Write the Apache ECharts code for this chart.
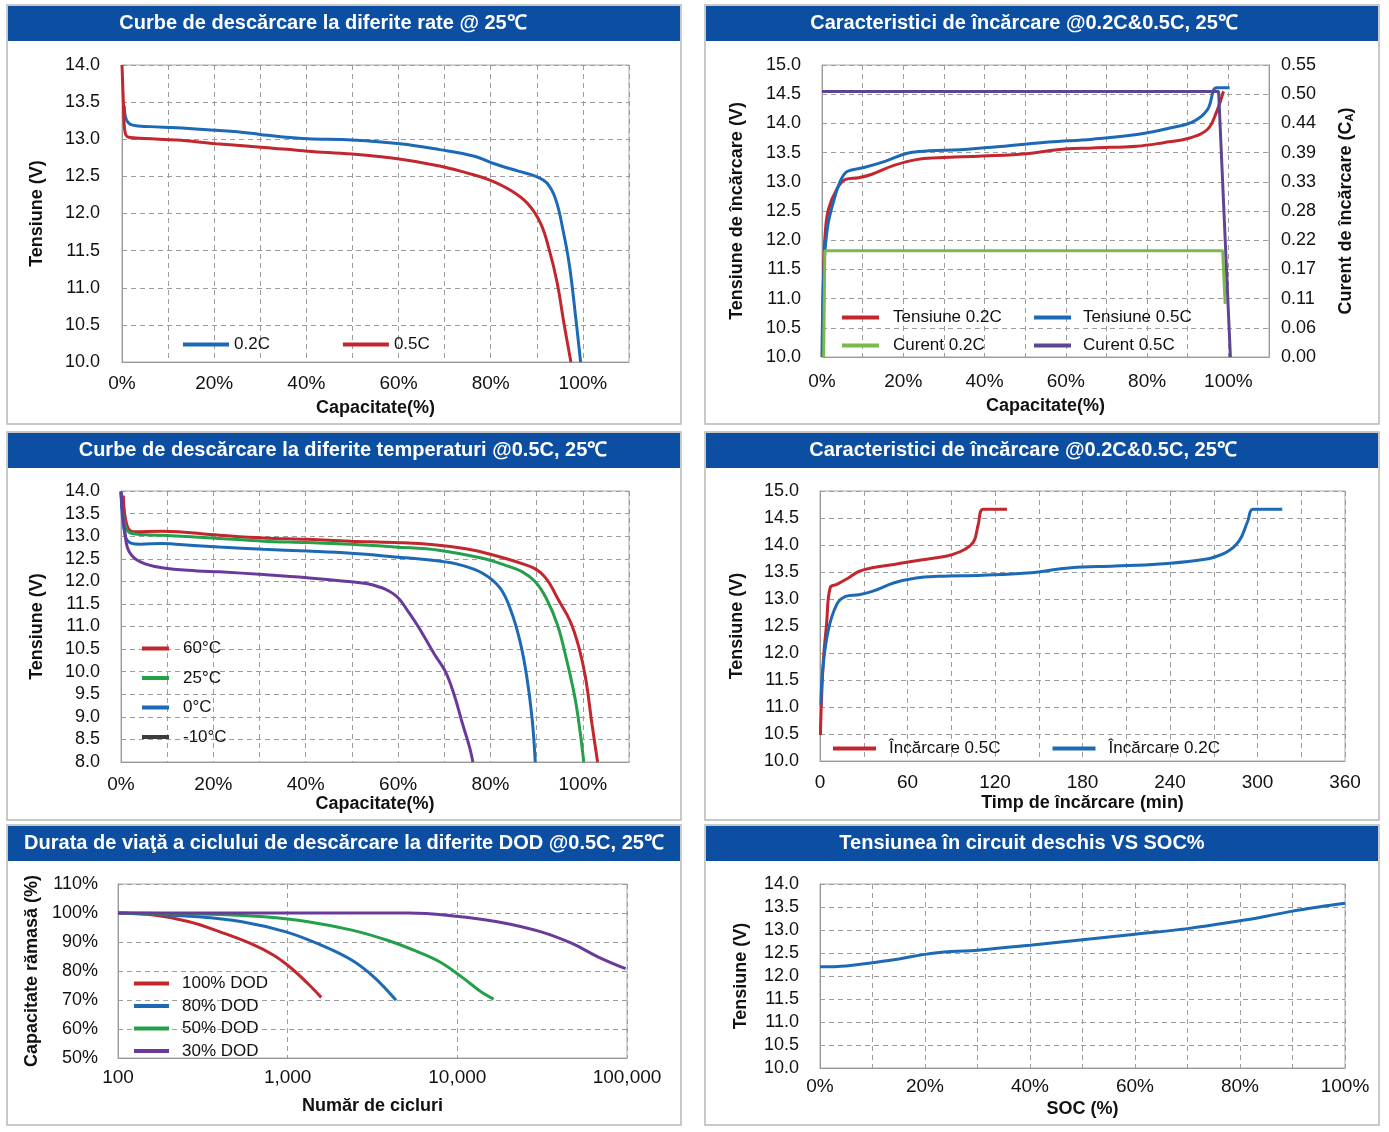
<!DOCTYPE html>
<html>
<head>
<meta charset="utf-8">
<script src="https://cdn.jsdelivr.net/npm/echarts@6/dist/echarts.min.js"></script>
<style>
  html, body { margin: 0; padding: 0; background: #fff; }
  #main { width: 1389px; height: 1132px; }
</style>
</head>
<body>
<div id="main"></div>
<script>
// ---- panel 1: discharge at different rates
const dis02C = [[0.5,13.45],[0.9,13.27],[2.3,13.19],[6,13.17],[11.8,13.155],[20.4,13.12],[25,13.1],[29.9,13.065],[35,13.03],[40.3,13.007],[49.9,12.99],[60.3,12.94],[68.9,12.86],[76.5,12.77],[80.3,12.68],[86,12.57],[89.8,12.5],[92.2,12.41],[94.1,12.19],[95.8,11.74],[97.1,11.29],[98.4,10.62],[99.5,10.0]];
const dis05C = [[0,14.0],[0.3,13.5],[0.6,13.12],[1.3,13.03],[5,13.01],[11.8,12.99],[20.4,12.94],[30.8,12.89],[40.3,12.84],[49.9,12.8],[59.4,12.74],[68.9,12.64],[74.6,12.55],[79.4,12.46],[84.1,12.32],[87.9,12.14],[90.8,11.87],[92.7,11.51],[94.4,11.07],[96,10.48],[97.4,10.0]];

// ---- panel 2: charge characteristics vs capacity
const chgV02C = [[0.1,10.0],[0.4,11.5],[0.8,12.13],[1.6,12.53],[3.6,12.87],[5.8,13.04],[9,13.07],[12.3,13.13],[17.7,13.28],[23.2,13.38],[28.6,13.41],[39.5,13.44],[50.3,13.48],[57.9,13.55],[66.6,13.58],[77.5,13.61],[84,13.67],[90.5,13.75],[94.9,13.9],[97,14.18],[98.8,14.55]];
const chgV05C = [[0,10.0],[0.5,11.55],[1.4,12.24],[3,12.7],[4.7,13.04],[6.3,13.18],[10.1,13.24],[15.5,13.35],[21,13.49],[26.4,13.53],[34,13.55],[44.9,13.61],[55.8,13.68],[66.6,13.73],[77.5,13.81],[86.2,13.93],[91.6,14.04],[94.9,14.24],[97.1,14.61],[100.3,14.61]];
const chgI02C = [[0.4,0],[0.7,0.2],[98.6,0.2],[99.2,0.1]];
const chgI05C = [[0,0.5],[97.6,0.5],[100.5,0]];
const curTicks = ['0.00','0.06','0.11','0.17','0.22','0.28','0.33','0.39','0.44','0.50','0.55'];

// ---- panel 3: discharge at different temperatures
const t60 = [[0.5,13.9],[1.3,13.24],[2.8,13.1],[8.9,13.11],[21.3,13.02],[30.8,12.96],[40.3,12.93],[49.8,12.89],[59.3,12.86],[68.8,12.8],[76.4,12.69],[83.1,12.51],[87.8,12.36],[89.8,12.27],[91.6,12.12],[93,11.92],[94.5,11.63],[97.3,11.11],[99.2,10.52],[100.6,9.86],[102,8.83],[103.2,8.0]];
const t25 = [[0,14.0],[0.9,13.24],[2.3,13.06],[8.9,13.02],[21.3,12.95],[30.8,12.89],[40.3,12.86],[49.8,12.82],[59.3,12.76],[68.8,12.69],[78.3,12.51],[83.1,12.36],[86.9,12.21],[89.7,11.99],[92.1,11.62],[94.5,11.04],[96.4,10.3],[98.3,9.42],[99.4,8.68],[100.2,8.0]];
const t0 = [[0,13.98],[0.9,13.02],[2.3,12.84],[4.2,12.82],[8.9,12.84],[11.8,12.82],[21.3,12.76],[30.8,12.71],[40.3,12.67],[49.8,12.62],[59.3,12.54],[68.8,12.45],[73.6,12.36],[78.3,12.18],[82.1,11.85],[84.5,11.33],[86.4,10.67],[87.8,9.93],[89,8.98],[89.7,8.0]];
const tm10 = [[0,13.98],[0.9,13.02],[1.8,12.65],[4.2,12.43],[8.9,12.3],[16.5,12.23],[21.3,12.21],[30.8,12.15],[40.3,12.08],[49.8,11.99],[54.6,11.92],[59.3,11.7],[62.2,11.33],[65,10.89],[67.9,10.38],[70.2,10.01],[72.1,9.5],[74,8.83],[75.5,8.32],[76.2,8.0]];

// ---- panel 4: charge voltage vs time (min)
const time05C = [[0.3,10.48],[0.9,11.04],[2.4,11.9],[4.5,12.53],[7,13.21],[11.5,13.27],[17.6,13.36],[26.7,13.51],[35.8,13.58],[50.9,13.64],[66,13.71],[81.2,13.77],[90.3,13.82],[99.4,13.92],[105.5,14.07],[108.5,14.38],[112,14.66],[128.2,14.66]];
const time02C = [[0.6,11.04],[1.8,11.66],[5.5,12.4],[11.5,12.9],[17.6,13.05],[26.7,13.08],[35.8,13.14],[50.9,13.3],[66,13.39],[81.2,13.42],[111.5,13.44],[141.8,13.48],[172.1,13.58],[202.4,13.61],[232.7,13.65],[263,13.73],[278.2,13.86],[287.3,14.07],[293.3,14.44],[297,14.66],[317,14.66]];

// ---- panel 5: cycle life at different DOD
const dod100 = [[100,100],[163,99.3],[263,97],[399,93.5],[603,89.5],[818,85.6],[1038,81.2],[1318,75.6],[1577,70.9]];
const dod80 = [[100,100],[296,98.7],[538,97],[977,93.5],[1577,88.9],[2393,83.7],[3226,77.9],[4354,69.9]];
const dod50 = [[100,100],[399,99.5],[726,98.7],[1318,97],[2393,94.1],[3864,90.6],[5866,86.6],[7900,83.1],[10650,77.9],[13520,73.2],[16360,70.3]];
const dod30 = [[100,100],[5200,100],[9460,99],[17190,97],[31200,93.5],[47400,89.5],[67800,84.8],[98100,80.8]];

// ---- panel 6: open-circuit voltage vs SOC
const ocv = [[0,12.2],[5,12.22],[10,12.29],[15,12.37],[20,12.47],[25,12.53],[30,12.56],[40,12.67],[50,12.79],[60,12.91],[70,13.03],[80,13.2],[85,13.3],[90,13.41],[95,13.5],[100,13.58]];

const headers = [
    'Curbe de descărcare la diferite rate @ 25℃',
    'Caracteristici de încărcare @0.2C&0.5C, 25℃',
    'Curbe de descărcare la diferite temperaturi @0.5C, 25℃',
    'Caracteristici de încărcare @0.2C&0.5C, 25℃',
    'Durata de viaţă a ciclului de descărcare la diferite DOD @0.5C, 25℃',
    'Tensiunea în circuit deschis VS SOC%'
];

const FONT = '"Liberation Sans", Arial, sans-serif';
const BLUE = '#1c69b6', RED = '#c1272d', GREEN = '#24a04a', PURPLE = '#6a3a9b';

const boxes = [[7,5,674,419],[705,5,674,419],[7,432,674,388],[705,432,674,388],[7,825,674,300],[705,825,674,300]];
const headerCx = [323, 1024, 343, 1023, 344, 1022];

const gridLine = { show: true, lineStyle: { color: '#9c9c9c', type: [5, 4], width: 1 } };

function axis(type, gi, min, max, step, fmt, name, nameGap, margin, labelSize) {
    const a = {
        type: type, gridIndex: gi, min: min, max: max,
        axisLine: { show: true, onZero: false, lineStyle: { color: '#999' } },
        axisTick: { show: false },
        axisLabel: { formatter: fmt, color: '#111', fontSize: labelSize, fontFamily: FONT, margin: margin },
        splitLine: gridLine,
        name: name, nameLocation: 'middle', nameGap: nameGap,
        nameTextStyle: { fontWeight: 'bold', fontSize: 18, color: '#111', fontFamily: FONT }
    };
    if (step) a.interval = step;
    return a;
}

const pct20 = v => (v % 20 === 0 && v <= 100) ? v + '%' : '';
const dec1 = v => v.toFixed(1);

function line(name, xi, yi, data, color, extra) {
    return Object.assign({
        type: 'line', name: name, xAxisIndex: xi, yAxisIndex: yi, data: data,
        showSymbol: false, symbol: 'none', smooth: 0.4,
        lineStyle: { width: 3, color: color }, itemStyle: { color: color }
    }, extra || {});
}

function legend(names, left, top, width, gap, pad, vertical) {
    return {
        data: names, left: left, top: top, padding: 0, icon: 'rect',
        orient: vertical ? 'vertical' : 'horizontal',
        itemWidth: width, itemHeight: 4, itemGap: gap,
        textStyle: { fontSize: 17, color: '#111', fontFamily: FONT, padding: [0, 0, 0, pad] }
    };
}

const graphics = [];
boxes.forEach(function (b, i) {
    graphics.push({ type: 'rect', z: -10, shape: { x: b[0], y: b[1], width: b[2], height: b[3] },
        style: { fill: '#fff', stroke: '#b8b8b8', lineWidth: 1.5 } });
    graphics.push({ type: 'rect', z: -5, shape: { x: b[0] + 1, y: b[1] + 1, width: b[2] - 2, height: 35 },
        style: { fill: '#0b4ea2' } });
    graphics.push({ type: 'text', z: 10, x: headerCx[i], y: b[1] + 18,
        style: { text: headers[i], fill: '#fff', font: 'bold 20px ' + FONT, textAlign: 'center', textVerticalAlign: 'middle' } });
});

const chart = echarts.init(document.getElementById('main'));
chart.setOption({
    animation: false,
    backgroundColor: '#fff',
    graphic: graphics,
    grid: [
        { left: 122, top: 65, width: 507, height: 297, show: true, borderColor: '#aaa' },
        { left: 822, top: 65, width: 447, height: 292, show: true, borderColor: '#aaa' },
        { left: 121, top: 491, width: 508, height: 271, show: true, borderColor: '#aaa' },
        { left: 820, top: 491, width: 525, height: 270, show: true, borderColor: '#aaa' },
        { left: 118, top: 884, width: 509, height: 174, show: true, borderColor: '#aaa' },
        { left: 820, top: 884, width: 525, height: 184, show: true, borderColor: '#aaa' }
    ],
    xAxis: [
        axis('value', 0, 0, 110, 10, pct20, 'Capacitate(%)', 37, 12, 19),
        axis('value', 1, 0, 110, 10, pct20, 'Capacitate(%)', 40, 15, 19),
        axis('value', 2, 0, 110, 10, pct20, 'Capacitate(%)', 33, 13, 19),
        axis('value', 3, 0, 360, 30, v => v % 60 === 0 ? String(v) : '', 'Timp de încărcare (min)', 33, 12, 19),
        Object.assign(axis('log', 4, 100, 100000, null, v => v.toLocaleString('en-US'), 'Număr de cicluri', 39, 10, 19), { logBase: 10 }),
        axis('value', 5, 0, 100, 10, pct20, 'SOC (%)', 32, 9, 19)
    ],
    yAxis: [
        axis('value', 0, 10, 14, 0.5, dec1, 'Tensiune (V)', 76, 22, 18),
        axis('value', 1, 10, 15, 0.5, dec1, 'Tensiune de încărcare (V)', 76, 21, 18),
        Object.assign(axis('value', 1, 0, 0.55, 0.055, v => curTicks[Math.round(v / 0.055)], 'Curent de încărcare (C{sub|A})', 68, 12, 18), {
            position: 'right', splitLine: { show: false },
            nameTextStyle: { fontWeight: 'bold', fontSize: 18, color: '#111', fontFamily: FONT,
                rich: { sub: { fontSize: 11, fontWeight: 'bold', color: '#111', fontFamily: FONT, verticalAlign: 'bottom', padding: [6, 0, 0, 0] } } }
        }),
        axis('value', 2, 8, 14, 0.5, dec1, 'Tensiune (V)', 75, 21, 18),
        axis('value', 3, 10, 15, 0.5, dec1, 'Tensiune (V)', 74, 21, 18),
        axis('value', 4, 50, 110, 10, v => v + '%', 'Capacitate rămasă (%)', 77, 20, 18),
        axis('value', 5, 10, 14, 0.5, dec1, 'Tensiune (V)', 70, 21, 18)
    ],
    legend: [
        legend(['0.2C', '0.5C'], 183, 336, 46, 73, 0, false),
        legend(['Tensiune 0.2C', 'Curent 0.2C'], 842, 309, 37, 11, 9, true),
        legend(['Tensiune 0.5C', 'Curent 0.5C'], 1034, 309, 37, 11, 7, true),
        legend(['60°C', '25°C', '0°C', { name: '-10°C', itemStyle: { color: '#3c3c3c' } }], 142, 640, 27, 12.5, 9, true),
        legend(['Încărcare 0.5C', 'Încărcare 0.2C'], 833, 740, 43, 52, 8, false),
        legend(['100% DOD', '80% DOD', '50% DOD', '30% DOD'], 134, 975, 35, 5.5, 8, true)
    ],
    series: [
        line('0.2C', 0, 0, dis02C, BLUE),
        line('0.5C', 0, 0, dis05C, RED),

        line('Tensiune 0.2C', 1, 1, chgV02C, RED),
        line('Tensiune 0.5C', 1, 1, chgV05C, BLUE),
        line('Curent 0.2C', 1, 2, chgI02C, '#7db84a', { smooth: false }),
        line('Curent 0.5C', 1, 2, chgI05C, '#5d4592', { smooth: false }),

        line('60°C', 2, 3, t60, RED),
        line('25°C', 2, 3, t25, GREEN),
        line('0°C', 2, 3, t0, BLUE),
        line('-10°C', 2, 3, tm10, PURPLE),

        line('Încărcare 0.5C', 3, 4, time05C, RED),
        line('Încărcare 0.2C', 3, 4, time02C, BLUE),

        line('100% DOD', 4, 5, dod100, RED),
        line('80% DOD', 4, 5, dod80, BLUE),
        line('50% DOD', 4, 5, dod50, GREEN),
        line('30% DOD', 4, 5, dod30, PURPLE),

        line('OCV', 5, 6, ocv, BLUE)
    ]
});
</script>
</body>
</html>
